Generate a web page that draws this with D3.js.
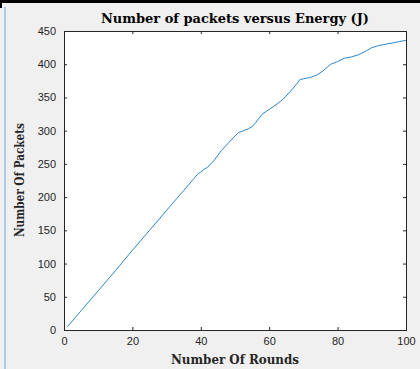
<!DOCTYPE html>
<html>
<head>
<meta charset="utf-8">
<script src="https://cdn.jsdelivr.net/npm/d3@7"></script>
<style>
  html, body { margin: 0; padding: 0; background: #f0f0f0; }
  svg { display: block; }
</style>
</head>
<body>
<svg class="chart"></svg>
<script>
// values
var rounds = [1, 5, 10, 15, 20, 25, 30, 35, 38, 39, 40, 41, 42, 44, 46, 48, 50, 51, 52, 54, 55, 56, 58, 60,
              62, 64, 66, 68, 69, 70, 72, 74, 76, 78, 80, 82, 84, 86, 88, 90, 92, 94, 96, 98, 100];
var packets = [5, 29, 59, 89, 120, 150, 180, 210, 228, 234, 238, 242, 245, 256, 270, 281, 292, 297, 299, 303, 306, 312, 325, 332,
               339, 347, 358, 370, 377, 378, 380, 384, 391, 400, 404, 409, 411, 414, 419, 425, 428, 430, 432, 434, 436];
var xTicks = [0, 20, 40, 60, 80, 100];
var yTicks = [0, 50, 100, 150, 200, 250, 300, 350, 400, 450];

function show() {
    'use strict';

    var W = 420, H = 369;
    var margin = { top: 31, left: 64, right: 14, bottom: 39 },
        width = W - margin.left - margin.right,
        height = H - margin.top - margin.bottom;

    var svg = d3.select(".chart").attr("width", W).attr("height", H);

    // window decorations seen in the screenshot
    svg.append("rect").attr("x", 0).attr("y", 0).attr("width", W).attr("height", 3).attr("fill", "#000");
    svg.append("rect").attr("x", 0).attr("y", 0).attr("width", 2).attr("height", 8).attr("fill", "#000");
    svg.append("rect").attr("x", 4).attr("y", 7).attr("width", 2).attr("height", H - 7).attr("fill", "#aacbeb");

    var x = d3.scaleLinear().domain([0, 100]).range([0, width]);
    var y = d3.scaleLinear().domain([0, 450]).range([height, 0]);

    var g = svg.append("g").attr("transform", "translate(" + margin.left + "," + margin.top + ")");

    g.append("rect").attr("width", width).attr("height", height).attr("fill", "#fff");

    var data = rounds.map(function (r, i) { return { r: r, p: packets[i] }; });

    g.append("path")
        .datum(data)
        .attr("fill", "none")
        .attr("stroke", "#2a86cc")
        .attr("stroke-width", 1)
        .attr("d", d3.line().x(d => x(d.r)).y(d => y(d.p)));

    // axes: ticks pointing inward, on all four sides
    var axisColor = "#262626";
    function styleAxis(sel, showText) {
        sel.select(".domain").remove();
        sel.selectAll("line").attr("stroke", axisColor);
        sel.selectAll("text")
            .attr("fill", axisColor)
            .style("font-family", "'Liberation Sans', Arial, sans-serif")
            .style("font-size", "11px")
            .style("display", showText ? null : "none");
    }

    g.append("g").attr("transform", "translate(0," + height + ")")
        .call(d3.axisBottom(x).tickValues(xTicks).tickSize(-3).tickPadding(7))
        .call(s => styleAxis(s, true));
    g.append("g")
        .call(d3.axisTop(x).tickValues(xTicks).tickSize(-3))
        .call(s => styleAxis(s, false));
    g.append("g")
        .call(d3.axisLeft(y).tickValues(yTicks).tickSize(-3).tickPadding(8))
        .call(s => styleAxis(s, true));
    g.append("g").attr("transform", "translate(" + width + ",0)")
        .call(d3.axisRight(y).tickValues(yTicks).tickSize(-3))
        .call(s => styleAxis(s, false));

    g.append("rect").attr("width", width).attr("height", height)
        .attr("fill", "none").attr("stroke", axisColor).attr("stroke-width", 1)
        .attr("shape-rendering", "crispEdges");

    var serif = "'DejaVu Serif', 'Liberation Serif', serif";

    svg.append("text")
        .attr("x", margin.left + width / 2).attr("y", 23)
        .attr("text-anchor", "middle")
        .attr("textLength", 268).attr("lengthAdjust", "spacingAndGlyphs")
        .style("font-family", serif).style("font-weight", "bold").style("font-size", "13px")
        .attr("fill", "#000")
        .text("Number of packets versus Energy (J)");

    svg.append("text")
        .attr("x", margin.left + width / 2).attr("y", 364)
        .attr("text-anchor", "middle")
        .attr("textLength", 128).attr("lengthAdjust", "spacingAndGlyphs")
        .style("font-family", serif).style("font-weight", "bold").style("font-size", "12px")
        .attr("fill", "#262626")
        .text("Number Of Rounds");

    svg.append("text")
        .attr("transform", "translate(24,180) rotate(-90)")
        .attr("text-anchor", "middle")
        .attr("textLength", 114).attr("lengthAdjust", "spacingAndGlyphs")
        .style("font-family", serif).style("font-weight", "bold").style("font-size", "12px")
        .attr("fill", "#262626")
        .text("Number Of Packets");
}
show();
</script>
</body>
</html>
